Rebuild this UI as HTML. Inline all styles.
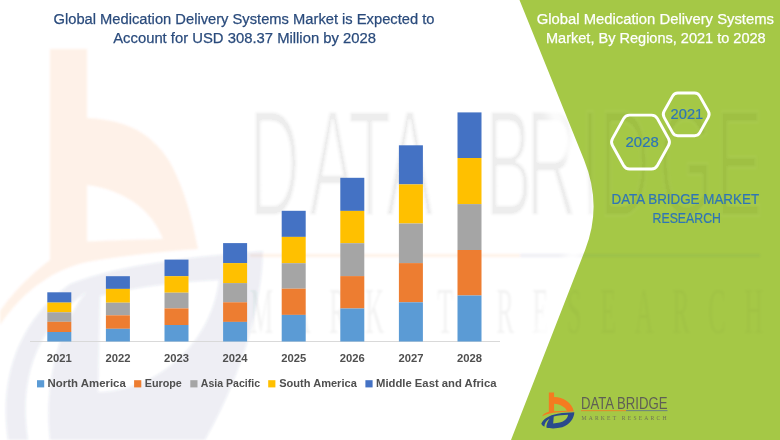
<!DOCTYPE html>
<html lang="en">
<head>
<meta charset="utf-8">
<title>Global Medication Delivery Systems Market</title>
<style>
html,body{margin:0;padding:0;background:#fff;}
body{width:780px;height:440px;overflow:hidden;}
svg{display:block;}
text{font-family:"Liberation Sans",sans-serif;}
.yr{font-size:11px;font-weight:bold;fill:#4f4f4f;}
.lg{font-size:11px;font-weight:bold;fill:#4f4f4f;}
.t1{font-size:15.4px;fill:#2A4B7C;stroke:#2A4B7C;stroke-width:0.25;}
.t2{font-size:15.4px;fill:#ffffff;stroke:#ffffff;stroke-width:0.25;}
.hx{font-size:14.6px;fill:#2E75B6;stroke:#2E75B6;stroke-width:0.2;}
.db{font-size:14.2px;fill:#2E75B6;stroke:#2E75B6;stroke-width:0.2;}
</style>
</head>
<body>
<svg width="780" height="440" viewBox="0 0 780 440">
<defs>
<filter id="soft" x="-20%" y="-20%" width="140%" height="140%"><feGaussianBlur stdDeviation="5"/></filter>
<filter id="wmblur" x="-5%" y="-5%" width="110%" height="110%"><feGaussianBlur stdDeviation="1.2"/></filter>
<clipPath id="gclip"><path d="M519.5,0 L584.1,160 Q602.6,205.75 585.1,250 L511,440 L780,440 L780,0 Z"/></clipPath>
  <g id="wmt" fill="#000">
  <g stroke="#fff" stroke-width="1" transform="translate(0,216) scale(0.95,2.03)" font-size="74.5">
  <text x="262.4 325.2 366.2 406.2" y="0">DATA</text>
  <text x="510.9 553.9 610.7 630.8 693.0 753.2" y="0">BRIDGE</text>
  </g>
  <text transform="translate(250,333) scale(1,2.56)" font-size="26" fill-opacity="0.7" textLength="513" lengthAdjust="spacing" style="font-family:'Liberation Serif',serif">MARKET RESEARCH</text>
  </g>
</defs>
<rect width="780" height="440" fill="#ffffff"/>

<!-- watermark -->
<g id="wm" filter="url(#wmblur)">
  <g opacity="0.09" fill="#F26A1B">
  <path fill-rule="evenodd" d="M50,49 H87 V118 C110,119 125,124 136,129.5 C152,138 165,152 173,168 C184,190 191,215 195,235 L198,249 C160,251.5 120,256 87,262 C50,270 20,295 0,325 L0,311 C20,283 40,268 50,260 Z M87,185 C125,190 152,210 163,239 C140,239.5 110,240.5 87,241.5 Z"/>
  <rect x="250" y="254" width="270" height="3"/>
  </g>
  <g opacity="0.085" fill="#2F4A80">
  <path fill-rule="evenodd" d="M8,440 C0,388 12,325 70,284 C120,264 200,256 263,251 C262,300 245,370 205,440 Z M100,296 L98,392 C150,392 210,350 219,280 C175,282 130,288 100,296 Z M28,440 C20,388 30,332 86,292 C56,330 44,390 50,440 Z"/>
  <rect x="520" y="254" width="240" height="3"/>
  </g>
  <use href="#wmt" opacity="0.07"/>
</g>
<!-- white glow beside green panel edge -->
<path d="M519.5,0 L584.1,160 Q602.6,205.75 585.1,250 L511,440" fill="none" stroke="#fff" stroke-width="14" filter="url(#soft)" opacity="0.9" transform="translate(-10,0)"/>
<!-- green panel -->
<path id="gp" d="M519.5,0 L584.1,160 Q602.6,205.75 585.1,250 L511,440 L780,440 L780,0 Z" fill="#A5C846"/>
<g clip-path="url(#gclip)" filter="url(#wmblur)"><use href="#wmt" opacity="0.04"/><rect x="520" y="254" width="240" height="3" fill="#1E3F8A" opacity="0.06"/></g>

<!-- chart -->
<line x1="30" y1="341.5" x2="500" y2="341.5" stroke="#D9D9D9" stroke-width="1"/>
<rect x="47.3" y="292.3" width="24.0" height="10.3" fill="#4472C4"/>
<rect x="47.3" y="302.6" width="24.0" height="9.7" fill="#FFC000"/>
<rect x="47.3" y="312.3" width="24.0" height="9.5" fill="#A5A5A5"/>
<rect x="47.3" y="321.8" width="24.0" height="10.2" fill="#ED7D31"/>
<rect x="47.3" y="332.0" width="24.0" height="9.5" fill="#5B9BD5"/>
<text x="46.8" y="362.3" textLength="25" lengthAdjust="spacingAndGlyphs" class="yr">2021</text>
<rect x="105.9" y="276.2" width="24.0" height="12.7" fill="#4472C4"/>
<rect x="105.9" y="288.9" width="24.0" height="13.8" fill="#FFC000"/>
<rect x="105.9" y="302.7" width="24.0" height="12.6" fill="#A5A5A5"/>
<rect x="105.9" y="315.3" width="24.0" height="13.5" fill="#ED7D31"/>
<rect x="105.9" y="328.8" width="24.0" height="12.7" fill="#5B9BD5"/>
<text x="105.4" y="362.3" textLength="25" lengthAdjust="spacingAndGlyphs" class="yr">2022</text>
<rect x="164.5" y="259.6" width="24.0" height="16.6" fill="#4472C4"/>
<rect x="164.5" y="276.2" width="24.0" height="16.5" fill="#FFC000"/>
<rect x="164.5" y="292.7" width="24.0" height="15.7" fill="#A5A5A5"/>
<rect x="164.5" y="308.4" width="24.0" height="16.6" fill="#ED7D31"/>
<rect x="164.5" y="325.0" width="24.0" height="16.5" fill="#5B9BD5"/>
<text x="164.0" y="362.3" textLength="25" lengthAdjust="spacingAndGlyphs" class="yr">2023</text>
<rect x="223.1" y="243.1" width="24.0" height="20.0" fill="#4472C4"/>
<rect x="223.1" y="263.1" width="24.0" height="20.0" fill="#FFC000"/>
<rect x="223.1" y="283.1" width="24.0" height="19.2" fill="#A5A5A5"/>
<rect x="223.1" y="302.3" width="24.0" height="19.6" fill="#ED7D31"/>
<rect x="223.1" y="321.9" width="24.0" height="19.6" fill="#5B9BD5"/>
<text x="222.6" y="362.3" textLength="25" lengthAdjust="spacingAndGlyphs" class="yr">2024</text>
<rect x="281.7" y="210.8" width="24.0" height="26.1" fill="#4472C4"/>
<rect x="281.7" y="236.9" width="24.0" height="26.3" fill="#FFC000"/>
<rect x="281.7" y="263.2" width="24.0" height="25.5" fill="#A5A5A5"/>
<rect x="281.7" y="288.7" width="24.0" height="26.2" fill="#ED7D31"/>
<rect x="281.7" y="314.9" width="24.0" height="26.6" fill="#5B9BD5"/>
<text x="281.2" y="362.3" textLength="25" lengthAdjust="spacingAndGlyphs" class="yr">2025</text>
<rect x="340.3" y="177.8" width="24.0" height="33.1" fill="#4472C4"/>
<rect x="340.3" y="210.9" width="24.0" height="32.3" fill="#FFC000"/>
<rect x="340.3" y="243.2" width="24.0" height="32.9" fill="#A5A5A5"/>
<rect x="340.3" y="276.1" width="24.0" height="32.4" fill="#ED7D31"/>
<rect x="340.3" y="308.5" width="24.0" height="33.0" fill="#5B9BD5"/>
<text x="339.8" y="362.3" textLength="25" lengthAdjust="spacingAndGlyphs" class="yr">2026</text>
<rect x="398.9" y="145.3" width="24.0" height="39.1" fill="#4472C4"/>
<rect x="398.9" y="184.4" width="24.0" height="39.1" fill="#FFC000"/>
<rect x="398.9" y="223.5" width="24.0" height="39.6" fill="#A5A5A5"/>
<rect x="398.9" y="263.1" width="24.0" height="39.2" fill="#ED7D31"/>
<rect x="398.9" y="302.3" width="24.0" height="39.2" fill="#5B9BD5"/>
<text x="398.4" y="362.3" textLength="25" lengthAdjust="spacingAndGlyphs" class="yr">2027</text>
<rect x="457.5" y="112.4" width="24.0" height="45.6" fill="#4472C4"/>
<rect x="457.5" y="158.0" width="24.0" height="46.1" fill="#FFC000"/>
<rect x="457.5" y="204.1" width="24.0" height="45.9" fill="#A5A5A5"/>
<rect x="457.5" y="250.0" width="24.0" height="45.5" fill="#ED7D31"/>
<rect x="457.5" y="295.5" width="24.0" height="46.0" fill="#5B9BD5"/>
<text x="457.0" y="362.3" textLength="25" lengthAdjust="spacingAndGlyphs" class="yr">2028</text>

<!-- legend -->
<g>
<rect x="37" y="380.2" width="7.2" height="7.2" fill="#5B9BD5"/>
<text class="lg" x="47.6" y="387.1" textLength="78.2" lengthAdjust="spacingAndGlyphs">North America</text>
<rect x="134.1" y="380.2" width="7.2" height="7.2" fill="#ED7D31"/>
<text class="lg" x="144.7" y="387.1" textLength="37.2" lengthAdjust="spacingAndGlyphs">Europe</text>
<rect x="190.3" y="380.2" width="7.2" height="7.2" fill="#A5A5A5"/>
<text class="lg" x="200.8" y="387.1" textLength="59.3" lengthAdjust="spacingAndGlyphs">Asia Pacific</text>
<rect x="268.2" y="380.2" width="7.2" height="7.2" fill="#FFC000"/>
<text class="lg" x="279.2" y="387.1" textLength="77.6" lengthAdjust="spacingAndGlyphs">South America</text>
<rect x="365.4" y="380.2" width="7.2" height="7.2" fill="#4472C4"/>
<text class="lg" x="376" y="387.1" textLength="120.5" lengthAdjust="spacingAndGlyphs">Middle East and Africa</text>
</g>

<!-- titles -->
<text class="t1" x="53.5" y="23.6" textLength="381" lengthAdjust="spacingAndGlyphs">Global Medication Delivery Systems Market is Expected to</text>
<text class="t1" x="113.2" y="42.6" textLength="262.8" lengthAdjust="spacingAndGlyphs">Account for USD 308.37 Million by 2028</text>
<text class="t2" x="536.7" y="24" textLength="237.3" lengthAdjust="spacingAndGlyphs">Global Medication Delivery Systems</text>
<text class="t2" x="546" y="42.7" textLength="219.7" lengthAdjust="spacingAndGlyphs">Market, By Regions, 2021 to 2028</text>

<!-- hexagons -->
<g fill="none" stroke="#ffffff" stroke-width="2.9" stroke-linejoin="round">
<path d="M612.5,145.5 Q610.5,142.1 612.5,138.6 L623.6,118.6 Q625.5,115.1 629.5,115.1 L651.5,115.1 Q655.5,115.1 657.4,118.6 L668.5,138.6 Q670.5,142.1 668.5,145.5 L657.4,165.5 Q655.5,169.0 651.5,169.0 L629.5,169.0 Q625.5,169.0 623.6,165.5 Z"/>
<path d="M664.1,117.4 Q662.4,114.3 664.1,111.3 L672.6,96.1 Q674.3,93.0 677.8,93.0 L694.6,93.0 Q698.1,93.0 699.8,96.1 L708.3,111.3 Q710.0,114.3 708.3,117.4 L699.8,132.6 Q698.1,135.7 694.6,135.7 L677.8,135.7 Q674.3,135.7 672.6,132.6 Z"/>
</g>
<text class="hx" x="625.6" y="147.4" textLength="33.1" lengthAdjust="spacingAndGlyphs">2028</text>
<text class="hx" x="670.6" y="119.3" textLength="32.6" lengthAdjust="spacingAndGlyphs">2021</text>
<text class="db" x="611.5" y="203.6" textLength="147.6" lengthAdjust="spacingAndGlyphs">DATA BRIDGE MARKET</text>
<text class="db" x="652.6" y="223" textLength="68.3" lengthAdjust="spacingAndGlyphs">RESEARCH</text>

<!-- small logo -->
<g id="logo">
  <path fill-rule="evenodd" d="M 548.86,392.39 L 554.09,392.39 L 554.09,396.93 C 563.41,397.27 571.93,402.05 573.86,411.59 C 567.95,411.82 557.73,412.05 550.91,413.18 C 546.36,414.09 543.52,415.45 542.05,416.36 C 543.18,414.32 545.80,412.61 548.86,411.82 Z M 554.09,403.7 L 554.09,411.14 L 566.9,410.75 C 565.6,407.2 560.6,404.3 554.09,403.7 Z" fill="#F47B20"/>
  <path fill-rule="evenodd" d="M 541.25,423.86 C 542.95,419.09 548.64,415.23 557.73,413.64 C 563.41,412.84 569.09,412.50 574.32,412.27 C 574.20,417.95 570.23,424.20 562.27,427.27 C 556.59,428.75 549.77,428.75 546.36,427.50 C 546.36,424.77 547.27,421.36 549.55,418.64 C 546.36,420.23 544.66,423.07 544.32,426.82 C 542.95,426.14 541.82,425.00 541.25,423.86 Z M 553.75,416.48 C 557.73,415.45 563.41,414.89 568.07,414.77 C 567.73,419.09 563.41,423.07 553.18,423.41 Z" fill="#2A4A8C"/>
  <text x="581" y="408.5" font-size="15.6" fill="#5F5F55" textLength="86.5" lengthAdjust="spacingAndGlyphs">DATA BRIDGE</text>
  <rect x="581" y="410.3" width="45" height="0.8" fill="#F47B20"/>
  <rect x="626" y="410.3" width="41.5" height="0.8" fill="#5c6f8f"/>
  <text x="581.5" y="419.6" font-size="5.6" fill="#6f7358" textLength="85" lengthAdjust="spacing" style="font-family:'Liberation Serif',serif">MARKET RESEARCH</text>
</g>
</svg>
</body>
</html>
